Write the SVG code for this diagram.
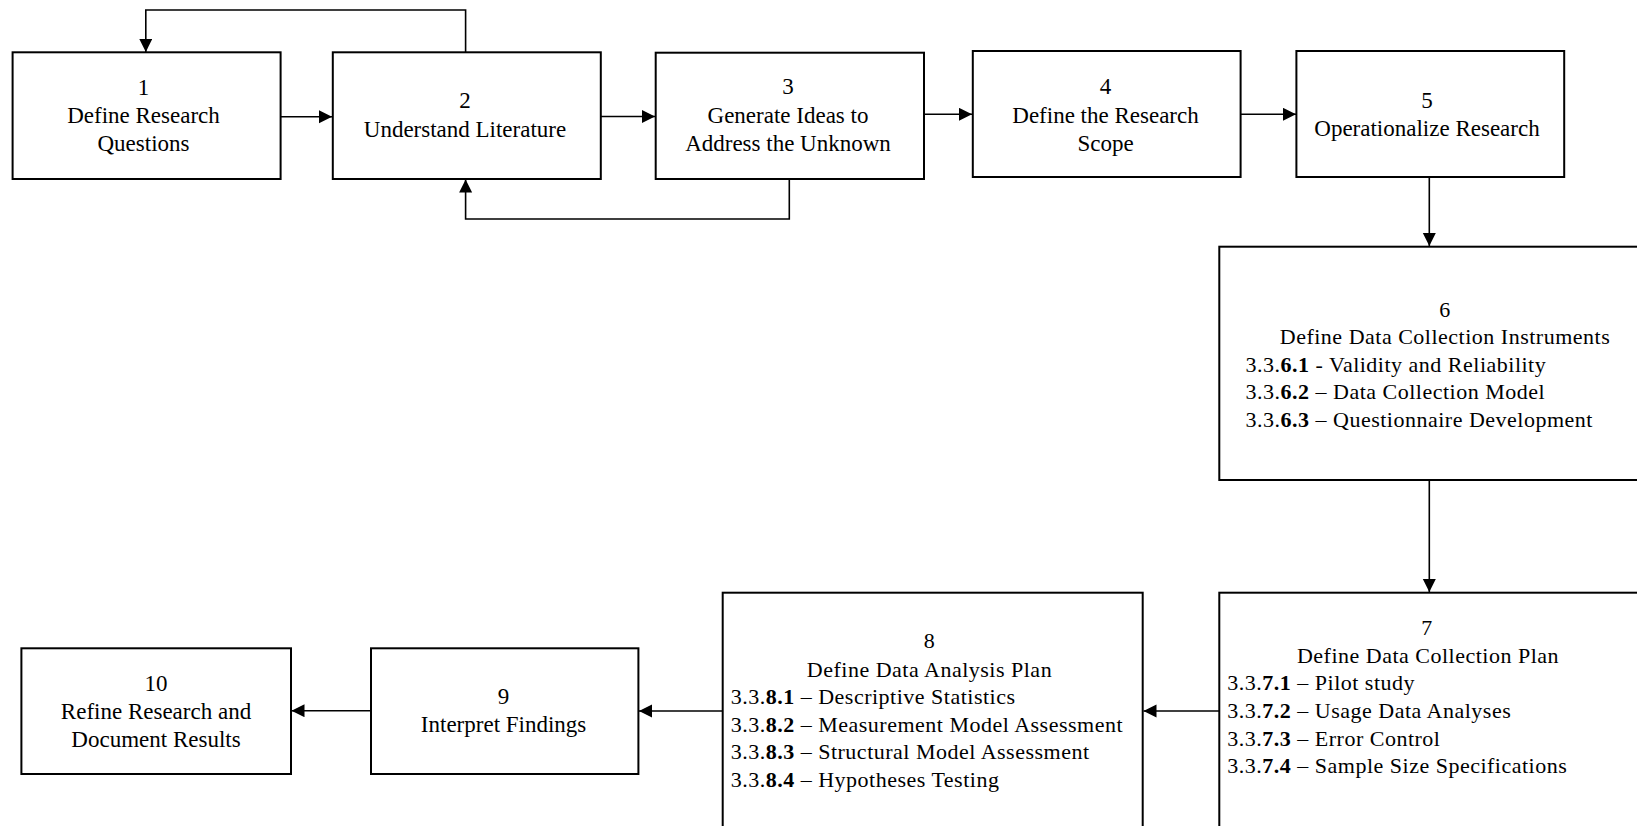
<svg xmlns="http://www.w3.org/2000/svg" width="1637" height="826" viewBox="0 0 1637 826">
<style>
.box{fill:#fff;stroke:#000;stroke-width:2}
.t{font-family:"Liberation Serif","Times New Roman",serif;font-size:23px;fill:#000;text-anchor:middle}
.s{font-family:"Liberation Serif","Times New Roman",serif;font-size:22px;fill:#000;letter-spacing:0.5px}
.sc{text-anchor:middle}
.b{font-weight:bold}
.c{fill:none;stroke:#000;stroke-width:1.6}
</style>
<defs>
<marker id="ah" markerUnits="userSpaceOnUse" markerWidth="14" markerHeight="14" refX="13" refY="6.5" orient="auto">
<path d="M0,0 L13,6.5 L0,13 z" fill="#000"/>
</marker>
</defs>
<rect width="1637" height="826" fill="#fff"/>
<g id="connectors">
<path class="c" d="M280.6,116.7 H332" marker-end="url(#ah)"/>
<path class="c" d="M600.8,116.5 H655" marker-end="url(#ah)"/>
<path class="c" d="M924,114.3 H972" marker-end="url(#ah)"/>
<path class="c" d="M1240.6,114.3 H1296" marker-end="url(#ah)"/>
<path class="c" d="M465.6,52 V10 H145.8 V52" marker-end="url(#ah)"/>
<path class="c" d="M789.3,179 V219 H465.6 V179.5" marker-end="url(#ah)"/>
<path class="c" d="M1429.3,177 V246" marker-end="url(#ah)"/>
<path class="c" d="M1429.3,480 V592" marker-end="url(#ah)"/>
<path class="c" d="M1219.3,711 H1143.5" marker-end="url(#ah)"/>
<path class="c" d="M722.7,711 H639" marker-end="url(#ah)"/>
<path class="c" d="M371,710.7 H291.5" marker-end="url(#ah)"/>
</g>
<g id="node1">
<rect class="box" x="12.6" y="52.3" width="268" height="126.7"/>
<text class="t" x="143.5" y="95">1</text>
<text class="t" x="143.5" y="123.3">Define Research</text>
<text class="t" x="143.5" y="150.5">Questions</text>
</g>
<g id="node2">
<rect class="box" x="332.8" y="52.3" width="268" height="126.7"/>
<text class="t" x="465" y="108.3">2</text>
<text class="t" x="465" y="136.7">Understand Literature</text>
</g>
<g id="node3">
<rect class="box" x="655.7" y="52.7" width="268.3" height="126.3"/>
<text class="t" x="788" y="94.3">3</text>
<text class="t" x="788" y="123.3">Generate Ideas to</text>
<text class="t" x="788" y="150.7">Address the Unknown</text>
</g>
<g id="node4">
<rect class="box" x="972.8" y="51" width="267.8" height="126"/>
<text class="t" x="1105.5" y="94.3">4</text>
<text class="t" x="1105.5" y="123.3">Define the Research</text>
<text class="t" x="1105.5" y="150.7">Scope</text>
</g>
<g id="node5">
<rect class="box" x="1296.4" y="51" width="267.8" height="126"/>
<text class="t" x="1427" y="108.3">5</text>
<text class="t" x="1427" y="136">Operationalize Research</text>
</g>
<g id="node6">
<rect class="box" x="1219.3" y="246.7" width="460" height="233.3"/>
<text class="s sc" x="1445" y="317">6</text>
<text class="s sc" x="1445" y="344">Define Data Collection Instruments</text>
<text class="s" x="1245.5" y="371.7">3.3.<tspan class="b">6.1</tspan> - Validity and Reliability</text>
<text class="s" x="1245.5" y="399.3">3.3.<tspan class="b">6.2</tspan> – Data Collection Model</text>
<text class="s" x="1245.5" y="426.7">3.3.<tspan class="b">6.3</tspan> – Questionnaire Development</text>
</g>
<g id="node7">
<rect class="box" x="1219.3" y="592.7" width="440" height="260"/>
<text class="s sc" x="1427" y="635">7</text>
<text class="s sc" x="1428" y="662.7">Define Data Collection Plan</text>
<text class="s" x="1227.3" y="690">3.3.<tspan class="b">7.1</tspan> – Pilot study</text>
<text class="s" x="1227.3" y="717.5">3.3.<tspan class="b">7.2</tspan> – Usage Data Analyses</text>
<text class="s" x="1227.3" y="745.5">3.3.<tspan class="b">7.3</tspan> – Error Control</text>
<text class="s" x="1227.3" y="773">3.3.<tspan class="b">7.4</tspan> – Sample Size Specifications</text>
</g>
<g id="node8">
<rect class="box" x="722.7" y="592.7" width="420" height="260"/>
<text class="s sc" x="929.5" y="648">8</text>
<text class="s sc" x="929.5" y="676.7">Define Data Analysis Plan</text>
<text class="s" x="730.7" y="704">3.3.<tspan class="b">8.1</tspan> – Descriptive  Statistics</text>
<text class="s" x="730.7" y="731.7">3.3.<tspan class="b">8.2</tspan> – Measurement Model Assessment</text>
<text class="s" x="730.7" y="759">3.3.<tspan class="b">8.3</tspan> – Structural Model Assessment</text>
<text class="s" x="730.7" y="786.7">3.3.<tspan class="b">8.4</tspan> – Hypotheses Testing</text>
</g>
<g id="node9">
<rect class="box" x="371" y="648.3" width="267.4" height="125.7"/>
<text class="t" x="503.6" y="704">9</text>
<text class="t" x="503.6" y="732.3">Interpret Findings</text>
</g>
<g id="node10">
<rect class="box" x="21.4" y="648.3" width="269.6" height="125.7"/>
<text class="t" x="156" y="690.7">10</text>
<text class="t" x="156" y="719">Refine Research and</text>
<text class="t" x="156" y="746.7">Document Results</text>
</g>
</svg>
